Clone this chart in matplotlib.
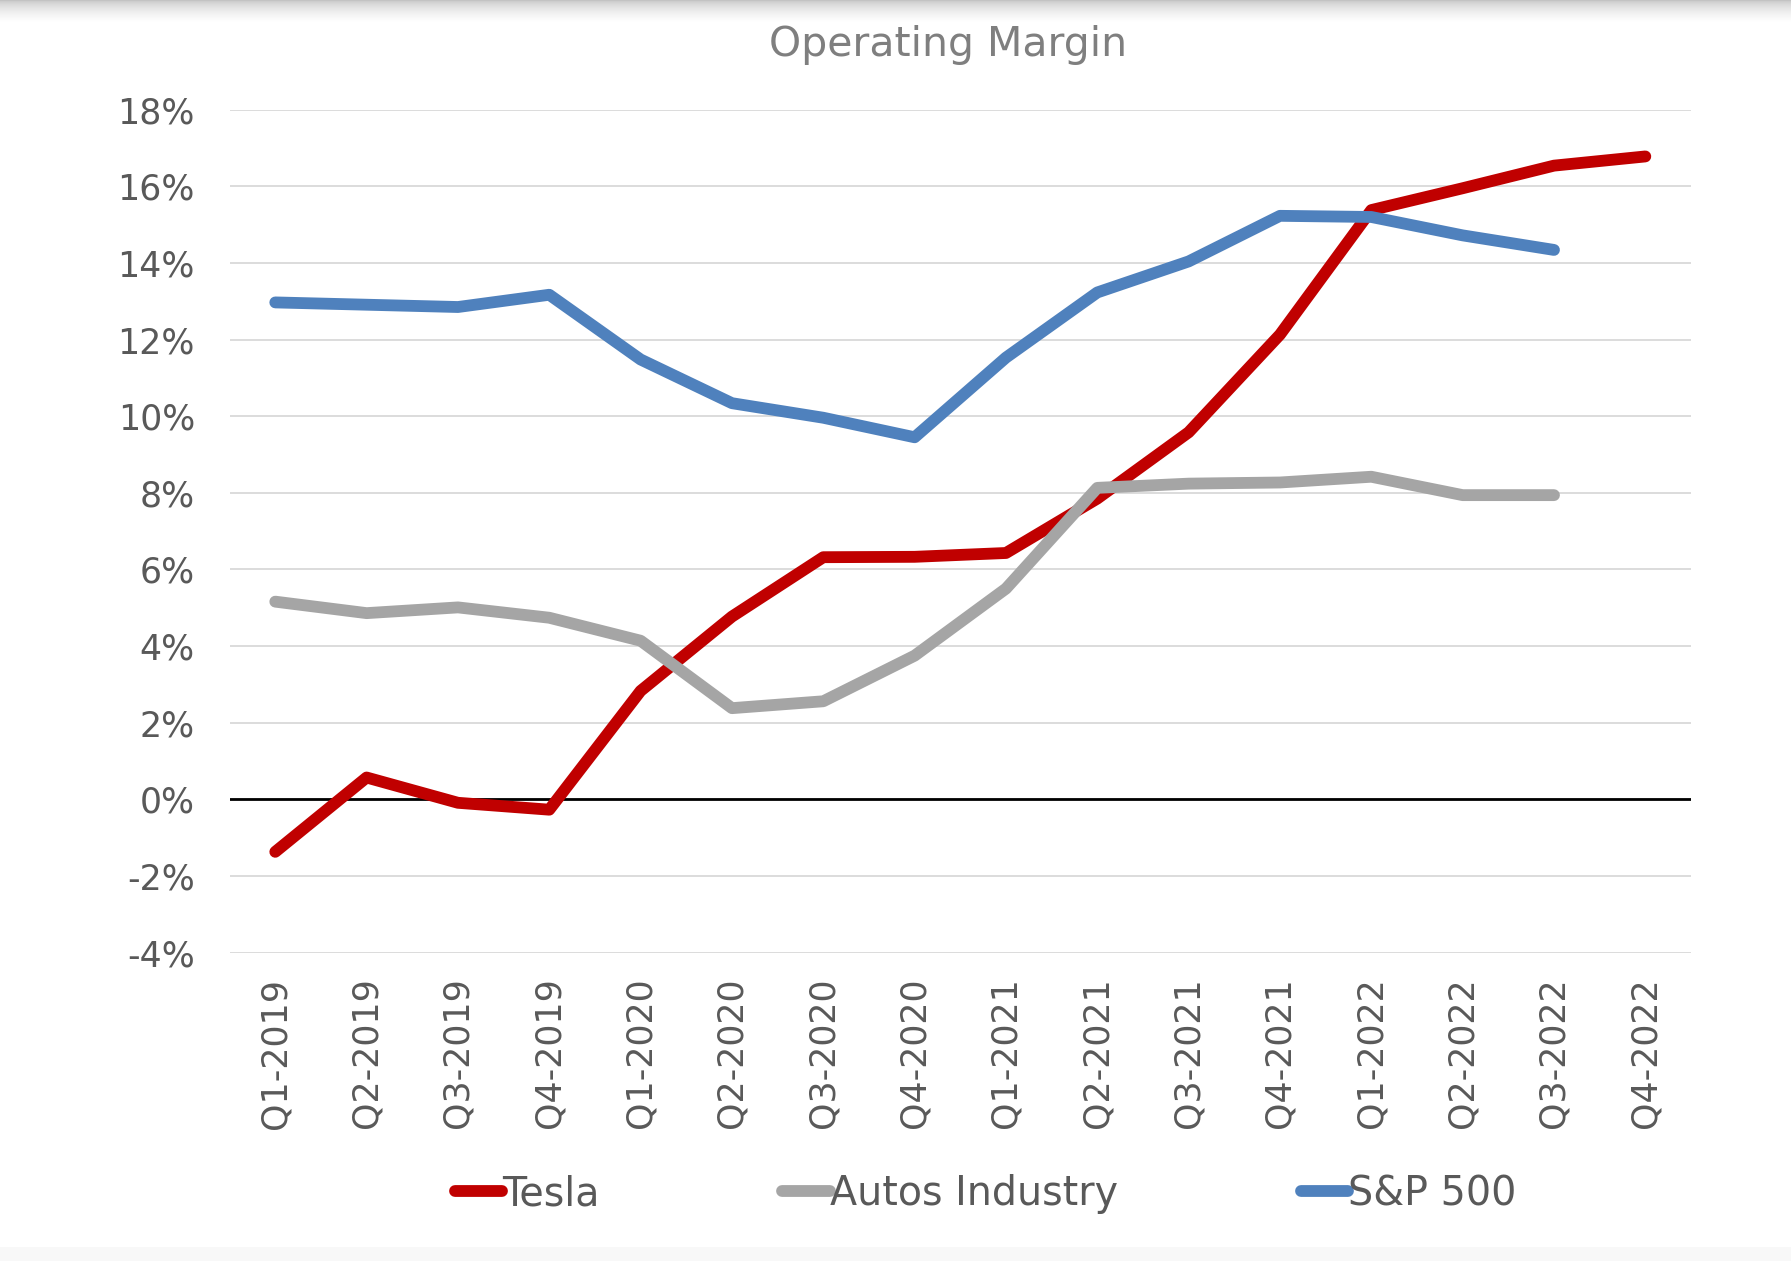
import numpy as np
import matplotlib
matplotlib.use("Agg")
import matplotlib.pyplot as plt
from matplotlib.lines import Line2D

quarters = ["Q1-2019", "Q2-2019", "Q3-2019", "Q4-2019",
            "Q1-2020", "Q2-2020", "Q3-2020", "Q4-2020",
            "Q1-2021", "Q2-2021", "Q3-2021", "Q4-2021",
            "Q1-2022", "Q2-2022", "Q3-2022", "Q4-2022"]

tesla = [-1.37, 0.57, -0.09, -0.27, 2.83, 4.77, 6.32, 6.33,
         6.43, 7.85, 9.58, 12.13, 15.38, 15.95, 16.54, 16.78]
autos = [5.16, 4.86, 5.01, 4.74, 4.14, 2.38, 2.56, 3.75,
         5.50, 8.13, 8.24, 8.27, 8.42, 7.94, 7.94]
sp500 = [12.97, 12.91, 12.85, 13.17, 11.48, 10.34, 9.96, 9.45,
         11.53, 13.23, 14.04, 15.23, 15.20, 14.72, 14.34]

series_names = ["Tesla", "Autos Industry", "S&P 500"]
yticks = [-4, -2, 0, 2, 4, 6, 8, 10, 12, 14, 16, 18]

colors = ["#C00000", "#A5A5A5", "#4F81BD"]
text_color = "#595959"

plt.rcParams['font.family'] = ['DejaVu Sans']

W, H = 1791, 1261
fig = plt.figure(figsize=(W / 100, H / 100), dpi=100)
fig.patch.set_facecolor("white")

# top shadow
sh = fig.add_axes([0, 1 - 22 / H, 1, 22 / H])
grad = np.linspace(0, 1, 64) ** 0.5
img = (0.74 + 0.26 * grad)[:, None] * np.ones((64, 2))
sh.imshow(img, cmap="gray", vmin=0, vmax=1, aspect="auto",
          extent=[0, 1, 0, 1], origin="upper")
sh.axis("off")
# bottom light band
bb = fig.add_axes([0, 0, 1, 14 / H])
bb.axis("off")
bb.add_patch(plt.Rectangle((0, 0), 1, 1, color="#F8F8F8", transform=bb.transAxes))

left, right = 229.6 / W, 1691.0 / W
top, bottom = 109.7 / H, 952.6 / H
ax = fig.add_axes([left, 1 - bottom, right - left, bottom - top])

x = np.arange(len(quarters))
lw = 8.5
ax.axhline(0, color="black", lw=2.0, zorder=2)
for vals, c, name in zip([tesla, autos, sp500], colors, series_names):
    ax.plot(x[:len(vals)], vals, color=c, lw=lw, solid_capstyle="round",
            solid_joinstyle="round", label=name, zorder=3)

ax.set_xlim(-0.5, len(quarters) - 0.5)
ax.set_ylim(-4, 18)
ax.set_yticks(yticks)
ax.set_yticklabels([f"{v}%" for v in yticks])
ax.set_xticks(x)
ax.set_xticklabels(quarters, rotation=90)
ax.grid(axis="y", color="#D9D9D9", lw=1.3, zorder=1)
ax.set_axisbelow(True)
for s in ax.spines.values():
    s.set_visible(False)
ax.tick_params(axis="both", length=0, labelsize=25, labelcolor=text_color)
ax.tick_params(axis="y", pad=25)
ax.tick_params(axis="x", pad=18)

fig.text(948 / W, 1 - 45 / H, "Operating Margin", ha="center", va="center",
         fontsize=29.5, color="#7F7F7F")

handles = [Line2D([0], [0], color=c, lw=lw, solid_capstyle="round") for c in colors]
leg = fig.legend(handles, series_names, loc="center left",
                 bbox_to_anchor=(455 / W, 1 - 1194 / H), ncol=3,
                 frameon=False, fontsize=28.5, handlelength=1.19,
                 handletextpad=0.0, columnspacing=4.62, borderpad=0,
                 borderaxespad=0)
for t in leg.get_texts():
    t.set_color(text_color)

fig.savefig("out.png", dpi=100, facecolor="white")
